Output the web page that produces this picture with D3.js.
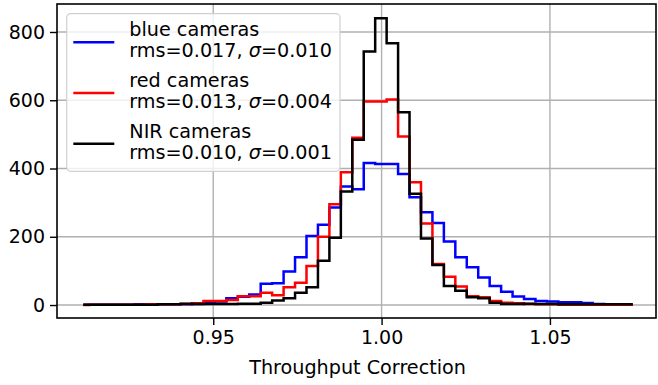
<!DOCTYPE html>
<meta charset="utf-8">
<script src="https://d3js.org/d3.v7.min.js"></script>
<style>
  body { margin: 0; background: #fff; }
  text { font-family: "DejaVu Sans", sans-serif; }
</style>
<div id="my_dataviz"></div>
<script>

// bin centres of the histograms
const binCenters = [0.9114, 0.9148, 0.9182, 0.9216, 0.9250, 0.9284, 0.9318, 0.9352, 0.9386, 0.9420,
  0.9454, 0.9488, 0.9522, 0.9556, 0.9590, 0.9624, 0.9658, 0.9692, 0.9726, 0.9760,
  0.9794, 0.9828, 0.9862, 0.9896, 0.9930, 0.9964, 0.9998, 1.0032, 1.0066, 1.0100,
  1.0134, 1.0168, 1.0202, 1.0236, 1.0270, 1.0304, 1.0338, 1.0372, 1.0406, 1.0440,
  1.0474, 1.0508, 1.0542, 1.0576, 1.0610, 1.0644, 1.0678, 1.0712, 1.0746];

const blueCounts = [1, 1, 1, 1, 1, 2, 1, 2, 2, 2, 3, 5, 10, 20, 24, 31, 62, 64, 98, 140,
  202, 235, 286, 347, 339, 416, 413, 413, 384, 316, 272, 240, 186, 140, 111, 81, 56, 39, 25, 18,
  12, 10, 8, 8, 6, 3, 2, 1, 1];
const redCounts = [0, 1, 1, 1, 1, 1, 2, 2, 2, 3, 5, 12, 12, 15, 26, 26, 36, 29, 52, 65,
  114, 200, 295, 389, 490, 596, 596, 602, 494, 360, 239, 120, 83, 54, 26, 23, 12, 7, 5, 3,
  2, 2, 1, 1, 1, 1, 1, 1, 1];
const nirCounts = [1, 1, 1, 1, 1, 1, 1, 2, 2, 4, 3, 3, 3, 3, 4, 4, 7, 13, 20, 36,
  52, 130, 197, 333, 484, 743, 840, 767, 565, 326, 195, 117, 56, 42, 23, 20, 7, 3, 3, 4,
  3, 3, 2, 2, 2, 2, 2, 2, 2];

const seriesNames = ["blue cameras", "red cameras", "NIR cameras"];
const seriesRms = ["0.017", "0.013", "0.010"];
const seriesSigma = ["0.010", "0.004", "0.001"];
const seriesColors = ["#0000ff", "#ff0000", "#000000"];

const xTicks = [0.95, 1.00, 1.05];
const yTicks = [0, 200, 400, 600, 800];

const W = 658, H = 385;
const margin = {top: 4, right: 2, bottom: 67, left: 57};
const width = W - margin.left - margin.right,
      height = H - margin.top - margin.bottom;

const svg = d3.select("#my_dataviz")
  .append("svg")
  .attr("width", W)
  .attr("height", H)
  .append("g")
  .attr("transform", `translate(${margin.left},${margin.top})`);

const x = d3.scaleLinear().domain([0.9036, 1.0815]).range([0, width]);
const y = d3.scaleLinear().domain([-38, 882]).range([height, 0]);

// grid
svg.append("g")
  .selectAll("line")
  .data(xTicks)
  .join("line")
  .attr("x1", d => x(d)).attr("x2", d => x(d))
  .attr("y1", 0).attr("y2", height)
  .attr("stroke", "#b0b0b0").attr("stroke-width", 1.4);
svg.append("g")
  .selectAll("line")
  .data(yTicks)
  .join("line")
  .attr("x1", 0).attr("x2", width)
  .attr("y1", d => y(d)).attr("y2", d => y(d))
  .attr("stroke", "#b0b0b0").attr("stroke-width", 1.4);

// histograms drawn as mid steps
const allCounts = [blueCounts, redCounts, nirCounts];
const line = d3.line()
  .x(d => x(d[0]))
  .y(d => y(d[1]))
  .curve(d3.curveStep);

allCounts.forEach(function (counts, i) {
  svg.append("path")
    .datum(binCenters.map((c, j) => [c, counts[j]]))
    .attr("d", line)
    .attr("fill", "none")
    .attr("stroke", seriesColors[i])
    .attr("stroke-width", 2.5)
    .attr("stroke-linejoin", "miter");
});

// axes
const xAxis = svg.append("g")
  .attr("transform", `translate(0,${height})`)
  .call(d3.axisBottom(x).tickValues(xTicks).tickFormat(d3.format(".2f")).tickSizeOuter(0).tickSize(7).tickPadding(6));
const yAxis = svg.append("g")
  .call(d3.axisLeft(y).tickValues(yTicks).tickSizeOuter(0).tickSize(7).tickPadding(5));
[xAxis, yAxis].forEach(function (a) {
  a.select(".domain").remove();
  a.selectAll("line").attr("stroke", "#000").attr("stroke-width", 1.4);
  a.selectAll("text").attr("font-size", "19px").attr("fill", "#000")
    .attr("font-family", "DejaVu Sans");
});

// frame
svg.append("rect")
  .attr("x", 0).attr("y", 0)
  .attr("width", width).attr("height", height)
  .attr("fill", "none").attr("stroke", "#000").attr("stroke-width", 1.6);

svg.append("text")
  .attr("x", x(1.0) - 24)
  .attr("y", height + 56)
  .attr("text-anchor", "middle")
  .attr("font-size", "19.2px")
  .text("Throughput Correction");

// legend
const legend = svg.append("g").attr("transform", `translate(${66.7 - margin.left},${13.7 - margin.top})`);
legend.append("rect")
  .attr("width", 273.3).attr("height", 157.6)
  .attr("rx", 4)
  .attr("fill", "#fff").attr("fill-opacity", 0.8)
  .attr("stroke", "#d0d0d0").attr("stroke-width", 1.2);

seriesNames.forEach(function (name, i) {
  const g = legend.append("g").attr("transform", `translate(0,${i * 50.7})`);
  g.append("line")
    .attr("x1", 6.6).attr("x2", 47.6)
    .attr("y1", 28.6).attr("y2", 28.6)
    .attr("stroke", seriesColors[i]).attr("stroke-width", 2.5);
  g.append("text")
    .attr("x", 62.6).attr("y", 22.6)
    .attr("font-size", "19.2px")
    .text(name);
  const t = g.append("text")
    .attr("x", 62.6).attr("y", 43.6)
    .attr("font-size", "19.2px");
  t.append("tspan").text(`rms=${seriesRms[i]}, `);
  t.append("tspan").attr("font-style", "italic").text("σ");
  t.append("tspan").text(`=${seriesSigma[i]}`);
});

</script>
